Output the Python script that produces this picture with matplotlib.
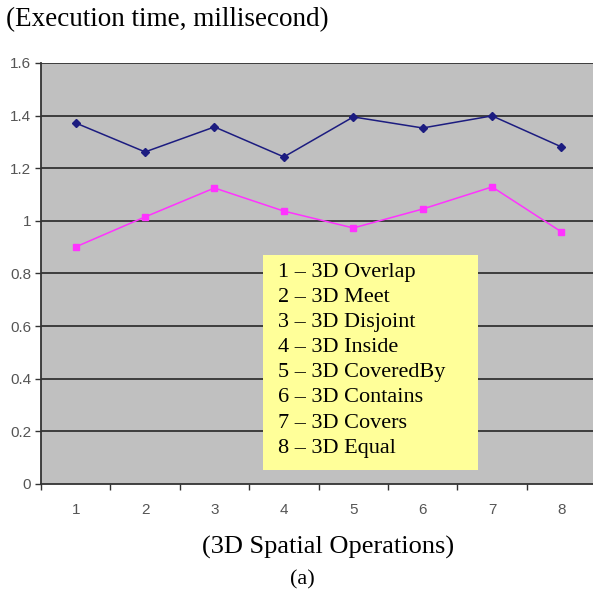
import matplotlib.pyplot as plt
from matplotlib.patches import Rectangle
from matplotlib.ticker import FixedLocator, NullFormatter

# data
operations = [1, 2, 3, 4, 5, 6, 7, 8]
series_top = [1.372, 1.262, 1.357, 1.243, 1.395, 1.353, 1.399, 1.281]
series_bottom = [0.901, 1.015, 1.125, 1.037, 0.973, 1.045, 1.129, 0.958]
y_ticks = [0, 0.2, 0.4, 0.6, 0.8, 1.0, 1.2, 1.4, 1.6]
y_tick_labels = ['0', '0.2', '0.4', '0.6', '0.8', '1', '1.2', '1.4', '1.6']
legend_lines = ['1 \u2013 3D Overlap', '2 \u2013 3D Meet', '3 \u2013 3D Disjoint',
                '4 \u2013 3D Inside', '5 \u2013 3D CoveredBy', '6 \u2013 3D Contains',
                '7 \u2013 3D Covers', '8 \u2013 3D Equal']

serif = 'Liberation Serif'
sans = 'Liberation Sans'

fig = plt.figure(figsize=(5.93, 5.97), dpi=100)
ax = fig.add_axes([0.0691, 0.1893, 0.9309, 0.7052])
ax.set_facecolor('#c0c0c0')

for y in y_ticks[1:]:
    ax.axhline(y, color='#333333', lw=1.3, zorder=1)

ax.plot(operations, series_top, color='#1c1c80', lw=1.1, marker='D',
        markersize=4.5, zorder=3)
ax.plot(operations, series_bottom, color='#ff33ff', lw=1.1, marker='s',
        markersize=5, zorder=3)

ax.set_xlim(0.5, 8.454)
ax.set_ylim(0, 1.6)
ax.set_yticks(y_ticks)
ax.set_yticklabels(y_tick_labels, family=sans, fontsize=11, color='#555555')
ax.set_xticks(operations)
ax.set_xticklabels([str(o) for o in operations], family=sans, fontsize=11,
                   color='#555555')
ax.xaxis.set_minor_locator(FixedLocator([o + 0.5 for o in [0] + operations]))
ax.xaxis.set_minor_formatter(NullFormatter())
ax.tick_params(axis='x', which='major', length=0, pad=14)
ax.tick_params(axis='x', which='minor', length=4, color='#333333', width=1)
ax.tick_params(axis='y', length=4, color='#333333', width=1, pad=3)

for side in ['top', 'right']:
    ax.spines[side].set_visible(False)
ax.spines['left'].set_color('#333333')
ax.spines['bottom'].set_color('#333333')
ax.spines['left'].set_linewidth(1.3)
ax.spines['bottom'].set_linewidth(1.3)

# legend box with operation names
box = Rectangle((263, 597 - 470), 215, 215, transform=None,
                facecolor='#ffff99', edgecolor='none', zorder=4)
fig.patches.append(box)
for i, line in enumerate(legend_lines):
    fig.text(278 / 593, 1 - (273 + 25 * i) / 597, line, family=serif,
             fontsize=16, va='center', ha='left', zorder=5)

fig.text(6 / 593, 1 - 20 / 597, '(Execution time, millisecond)', family=serif,
         fontsize=19.5, va='center', ha='left')
fig.text(328 / 593, 1 - 547 / 597, '(3D Spatial Operations)', family=serif,
         fontsize=19, va='center', ha='center')
fig.text(302 / 593, 1 - 580 / 597, '(a)', family=serif,
         fontsize=16, va='center', ha='center')

fig.savefig('out.png', dpi=100)
